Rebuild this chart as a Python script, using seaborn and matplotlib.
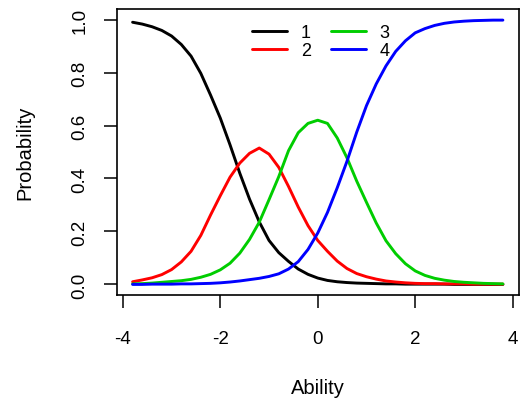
import numpy as np
import pandas as pd
import matplotlib
matplotlib.use("Agg")
import matplotlib.pyplot as plt
from matplotlib.lines import Line2D
import seaborn as sns

ability = [-3.8, -3.6, -3.4, -3.2, -3.0, -2.8, -2.6, -2.4, -2.2, -2.0,
           -1.8, -1.6, -1.4, -1.2, -1.0, -0.8, -0.6, -0.4, -0.2, 0.0,
           0.2, 0.4, 0.6, 0.8, 1.0, 1.2, 1.4, 1.6, 1.8, 2.0,
           2.2, 2.4, 2.6, 2.8, 3.0, 3.2, 3.4, 3.6, 3.8]

cat1 = [0.990, 0.983, 0.973, 0.959, 0.938, 0.906, 0.862, 0.797, 0.715, 0.628,
        0.527, 0.420, 0.322, 0.236, 0.166, 0.120, 0.087, 0.058, 0.038, 0.024,
        0.015, 0.010, 0.007, 0.005, 0.004, 0.003, 0.002, 0.002, 0.001, 0.001,
        0.001, 0.001, 0.001, 0.000, 0.000, 0.000, 0.000, 0.000, 0.000]

cat2 = [0.010, 0.017, 0.025, 0.037, 0.056, 0.085, 0.125, 0.185, 0.262, 0.335,
        0.405, 0.458, 0.495, 0.515, 0.492, 0.442, 0.370, 0.292, 0.222, 0.166,
        0.125, 0.088, 0.060, 0.041, 0.029, 0.020, 0.013, 0.009, 0.006, 0.004,
        0.003, 0.003, 0.002, 0.002, 0.002, 0.001, 0.001, 0.001, 0.001]

cat3 = [0.002, 0.003, 0.005, 0.008, 0.011, 0.014, 0.019, 0.027, 0.038, 0.055,
        0.080, 0.118, 0.170, 0.235, 0.320, 0.407, 0.505, 0.573, 0.608, 0.620,
        0.608, 0.553, 0.478, 0.390, 0.310, 0.232, 0.165, 0.116, 0.078, 0.051,
        0.034, 0.023, 0.016, 0.011, 0.008, 0.006, 0.004, 0.003, 0.002]

cat4 = [0.000, 0.000, 0.001, 0.001, 0.001, 0.002, 0.002, 0.003, 0.004, 0.006,
        0.009, 0.013, 0.018, 0.023, 0.030, 0.040, 0.058, 0.086, 0.132, 0.194,
        0.272, 0.365, 0.465, 0.575, 0.675, 0.757, 0.825, 0.880, 0.920, 0.950,
        0.966, 0.978, 0.986, 0.991, 0.994, 0.996, 0.997, 0.998, 0.998]

categories = ["1", "2", "3", "4"]
colors = ["#000000", "#FF0000", "#00CD00", "#0000FF"]
x_ticks = [-4, -2, 0, 2, 4]
y_ticks = [0.0, 0.2, 0.4, 0.6, 0.8, 1.0]

series = [cat1, cat2, cat3, cat4]
df = pd.concat([pd.DataFrame({"Ability": ability, "Probability": s, "Category": c})
                for s, c in zip(series, categories)], ignore_index=True)

sns.set_theme(style="white")
plt.rcParams["font.family"] = ["Liberation Sans", "DejaVu Sans"]
plt.rcParams["font.size"] = 13
plt.rcParams["text.color"] = "black"
plt.rcParams["axes.labelcolor"] = "black"

fig = plt.figure(figsize=(5.23, 4.02), dpi=100)
ax = fig.add_axes([117/523, 1-296/402, (518.5-117)/523, (296-10)/402])

sns.lineplot(data=df, x="Ability", y="Probability", hue="Category",
             palette=dict(zip(categories, colors)), linewidth=2.1,
             legend=False, ax=ax, sort=False)

ax.set_xlim(-4.12, 4.12)
ax.set_ylim(-0.04, 1.04)
ax.set_xticks(x_ticks)
ax.set_xticklabels([str(t) for t in x_ticks])
ax.set_yticks(y_ticks)
ax.set_yticklabels([f"{t:.1f}" for t in y_ticks], rotation=90, va="center")

for sp in ax.spines.values():
    sp.set_visible(True)
    sp.set_color("black")
    sp.set_linewidth(1.2)

ax.tick_params(axis="both", direction="out", length=9.5, width=1.1,
               colors="black", labelcolor="black", labelsize=13.5)
ax.tick_params(axis="x", pad=16)
ax.tick_params(axis="y", pad=11)
ax.tick_params(bottom=True, left=True)

ax.set_xlabel("Ability", fontsize=14.5, va="center", color="black")
ax.xaxis.set_label_coords(0.5, (296-389)/286)
ax.set_ylabel("Probability", fontsize=14.5, va="center", color="black")
ax.yaxis.set_label_coords((25-117)/401.5, 0.5)

handles = [Line2D([0], [0], color=c, lw=2.1) for c in colors]
leg = ax.legend(handles, categories, ncol=2, frameon=False, loc="upper left",
                bbox_to_anchor=((252-117)/401.5, (296-25)/286), borderpad=0,
                borderaxespad=0, handlelength=1.95, handletextpad=0.75,
                columnspacing=1.1, labelspacing=0.05, fontsize=13)
for t in leg.get_texts():
    t.set_color("black")

fig.savefig("out.png", dpi=100, facecolor="white")
